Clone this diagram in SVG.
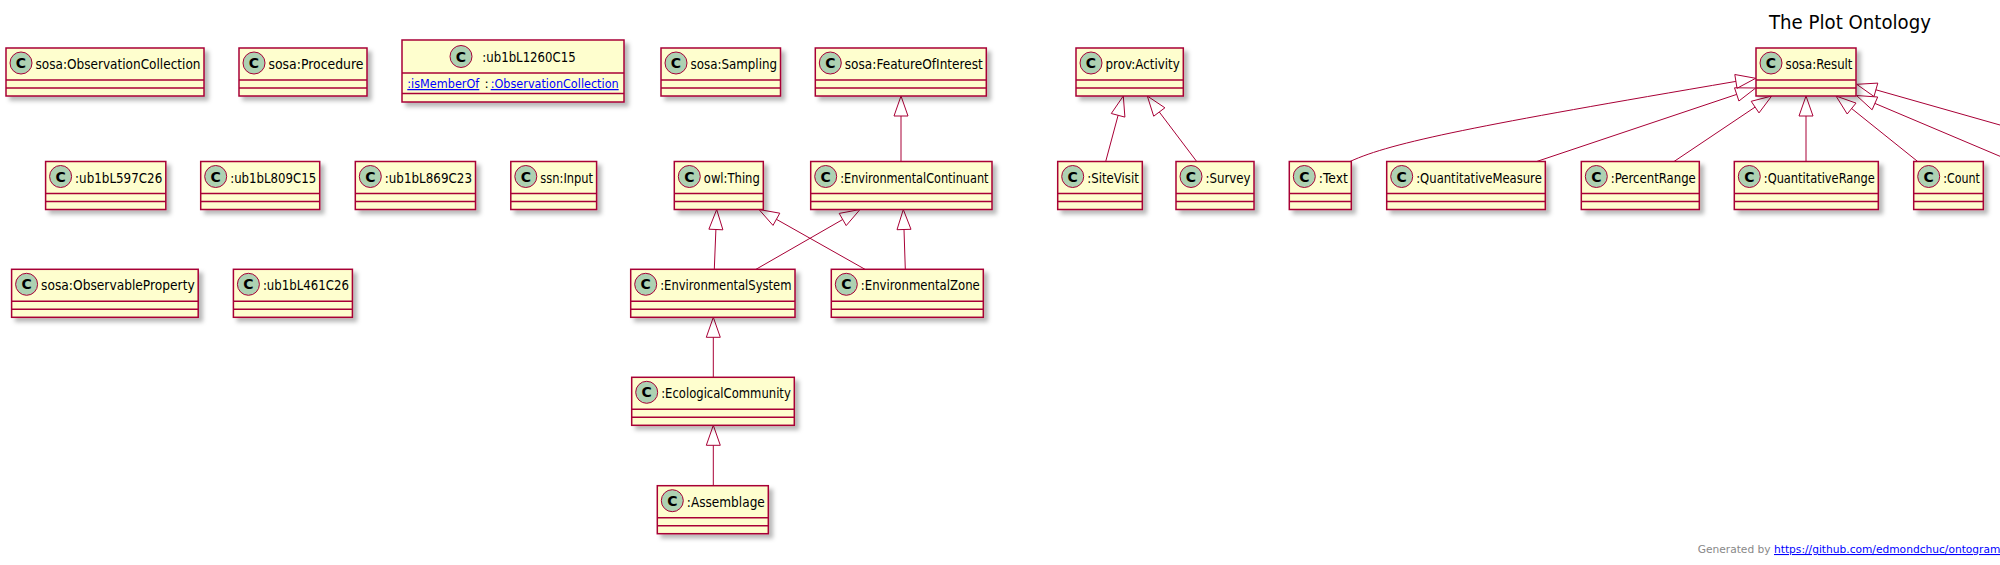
<svg xmlns="http://www.w3.org/2000/svg" width="2000" height="565" viewBox="0 0 2000 565">
<defs>
<filter id="sh" x="-20%" y="-20%" width="150%" height="170%"><feDropShadow dx="4" dy="4" stdDeviation="2" flood-color="#000" flood-opacity="0.28"/></filter>
<style>
.box{fill:#FEFECE;stroke:#A80036;stroke-width:1.5;filter:url(#sh)}
.sep{stroke:#A80036;stroke-width:1.5}
.ci{fill:#ADD1B2;stroke:#A80036;stroke-width:1}
.cl{font-family:"DejaVu Sans",sans-serif;font-weight:bold;font-size:14px;text-anchor:middle;fill:#000}
.nm{font-family:"DejaVu Sans",sans-serif;font-size:13.5px;fill:#000}
.at{font-family:"DejaVu Sans",sans-serif;font-size:12.5px;fill:#000}
.lk{fill:#0000FF;text-decoration:underline}
.ln{fill:none;stroke:#A80036;stroke-width:1}
.ah{fill:none;stroke:#A80036;stroke-width:1}
.title{font-family:"DejaVu Sans",sans-serif;font-size:19px;fill:#000}
.foot{font-family:"DejaVu Sans",sans-serif;font-size:10.65px;fill:#888888}
</style>
</defs>
<rect width="2000" height="565" fill="#FFFFFF"/>
<text class="title" x="1769" y="29" textLength="162" lengthAdjust="spacingAndGlyphs">The Plot Ontology</text>

<g id="connectors">
<line class="ln" x1="901" y1="161.5" x2="901" y2="116"/><polygon class="ah" points="901,96 894,116 908,116"/>
<line class="ln" x1="714.3" y1="269.3" x2="715.9" y2="229.5"/><polygon class="ah" points="716.7,209.5 722.9,229.8 708.9,229.2"/>
<line class="ln" x1="865" y1="269.3" x2="776.4" y2="219.3"/><polygon class="ah" points="759,209.5 773,225.4 779.8,213.2"/>
<line class="ln" x1="756" y1="269.3" x2="842.7" y2="219.5"/><polygon class="ah" points="860,209.5 846.2,225.6 839.2,213.4"/>
<line class="ln" x1="905.3" y1="269.3" x2="904" y2="229.5"/><polygon class="ah" points="903.3,209.5 911,229.3 897,229.7"/>
<line class="ln" x1="713.3" y1="377.3" x2="713.3" y2="337.3"/><polygon class="ah" points="713.3,317.3 706.3,337.3 720.3,337.3"/>
<line class="ln" x1="713.3" y1="485.7" x2="713.3" y2="445.3"/><polygon class="ah" points="713.3,425.3 706.3,445.3 720.3,445.3"/>
<line class="ln" x1="1105.7" y1="161.5" x2="1118.1" y2="115.3"/><polygon class="ah" points="1123.3,96 1124.9,117.1 1111.3,113.5"/>
<line class="ln" x1="1196.7" y1="161.5" x2="1159.3" y2="112"/><polygon class="ah" points="1147.3,96 1153.7,116.2 1164.9,107.8"/>
<path class="ln" d="M1350,161.5 C1392,142 1480,125 1735.9,81.4"/><polygon class="ah" points="1755.7,78.3 1737,88.3 1734.8,74.5"/>
<line class="ln" x1="1536.7" y1="161.5" x2="1736.7" y2="94.4"/><polygon class="ah" points="1755.7,88 1738.9,101 1734.5,87.8"/>
<line class="ln" x1="1674" y1="161.5" x2="1755.1" y2="107.1"/><polygon class="ah" points="1771.7,96 1759,112.9 1751.2,101.3"/>
<line class="ln" x1="1806" y1="161.5" x2="1806" y2="116"/><polygon class="ah" points="1806,96 1799,116 1813,116"/>
<line class="ln" x1="1917.7" y1="161.5" x2="1851.6" y2="108.5"/><polygon class="ah" points="1836,96 1847.2,114 1856,103.1"/>
<line class="ln" x1="2100" y1="153.4" x2="1875.9" y2="89.8"/><polygon class="ah" points="1856.7,84.3 1874,96.5 1877.8,83.1"/>
<line class="ln" x1="2100" y1="198.6" x2="1874.9" y2="103.4"/><polygon class="ah" points="1856.5,95.5 1872.1,109.8 1877.7,97"/>
</g>

<g id="sosa-ObservationCollection" transform="translate(6,48)"><rect class="box" width="198" height="48"/><line class="sep" x1="0" y1="32" x2="198" y2="32"/><line class="sep" x1="0" y1="40" x2="198" y2="40"/><circle class="ci" cx="15" cy="15" r="11"/><text class="cl" x="15" y="20">C</text><text class="nm" x="29.5" y="21" textLength="165" lengthAdjust="spacingAndGlyphs">sosa:ObservationCollection</text></g>
<g id="sosa-Procedure" transform="translate(239,48)"><rect class="box" width="128" height="48"/><line class="sep" x1="0" y1="32" x2="128" y2="32"/><line class="sep" x1="0" y1="40" x2="128" y2="40"/><circle class="ci" cx="15" cy="15" r="11"/><text class="cl" x="15" y="20">C</text><text class="nm" x="29.5" y="21" textLength="95" lengthAdjust="spacingAndGlyphs">sosa:Procedure</text></g>
<g id="ub1bL1260C15" transform="translate(402,40)"><rect class="box" width="222" height="62"/><line class="sep" x1="0" y1="33" x2="222" y2="33"/><line class="sep" x1="0" y1="53.5" x2="222" y2="53.5"/><circle class="ci" cx="59" cy="16.5" r="11"/><text class="cl" x="59" y="21.5">C</text><text class="nm" x="80.3" y="22" textLength="93.4" lengthAdjust="spacingAndGlyphs">:ub1bL1260C15</text><text class="at lk" x="5.3" y="48" textLength="72" lengthAdjust="spacingAndGlyphs">:isMemberOf</text><text class="at" x="82.5" y="48">:</text><text class="at lk" x="88.7" y="48" textLength="128" lengthAdjust="spacingAndGlyphs">:ObservationCollection</text></g>
<g id="sosa-Sampling" transform="translate(661,48)"><rect class="box" width="119.5" height="48"/><line class="sep" x1="0" y1="32" x2="119.5" y2="32"/><line class="sep" x1="0" y1="40" x2="119.5" y2="40"/><circle class="ci" cx="15" cy="15" r="11"/><text class="cl" x="15" y="20">C</text><text class="nm" x="29.5" y="21" textLength="86.5" lengthAdjust="spacingAndGlyphs">sosa:Sampling</text></g>
<g id="sosa-FeatureOfInterest" transform="translate(815.3,48)"><rect class="box" width="171" height="48"/><line class="sep" x1="0" y1="32" x2="171" y2="32"/><line class="sep" x1="0" y1="40" x2="171" y2="40"/><circle class="ci" cx="15" cy="15" r="11"/><text class="cl" x="15" y="20">C</text><text class="nm" x="29.5" y="21" textLength="138" lengthAdjust="spacingAndGlyphs">sosa:FeatureOfInterest</text></g>
<g id="prov-Activity" transform="translate(1076,48)"><rect class="box" width="107.3" height="48"/><line class="sep" x1="0" y1="32" x2="107.3" y2="32"/><line class="sep" x1="0" y1="40" x2="107.3" y2="40"/><circle class="ci" cx="15" cy="15" r="11"/><text class="cl" x="15" y="20">C</text><text class="nm" x="29.5" y="21" textLength="74.3" lengthAdjust="spacingAndGlyphs">prov:Activity</text></g>
<g id="sosa-Result" transform="translate(1756,48)"><rect class="box" width="100" height="48"/><line class="sep" x1="0" y1="32" x2="100" y2="32"/><line class="sep" x1="0" y1="40" x2="100" y2="40"/><circle class="ci" cx="15" cy="15" r="11"/><text class="cl" x="15" y="20">C</text><text class="nm" x="29.5" y="21" textLength="67" lengthAdjust="spacingAndGlyphs">sosa:Result</text></g>

<g id="ub1bL597C26" transform="translate(45.6,161.5)"><rect class="box" width="120.2" height="48"/><line class="sep" x1="0" y1="32" x2="120.2" y2="32"/><line class="sep" x1="0" y1="40" x2="120.2" y2="40"/><circle class="ci" cx="15" cy="15" r="11"/><text class="cl" x="15" y="20">C</text><text class="nm" x="29.5" y="21" textLength="87.2" lengthAdjust="spacingAndGlyphs">:ub1bL597C26</text></g>
<g id="ub1bL809C15" transform="translate(200.7,161.5)"><rect class="box" width="119" height="48"/><line class="sep" x1="0" y1="32" x2="119" y2="32"/><line class="sep" x1="0" y1="40" x2="119" y2="40"/><circle class="ci" cx="15" cy="15" r="11"/><text class="cl" x="15" y="20">C</text><text class="nm" x="29.5" y="21" textLength="86" lengthAdjust="spacingAndGlyphs">:ub1bL809C15</text></g>
<g id="ub1bL869C23" transform="translate(355.3,161.5)"><rect class="box" width="120.2" height="48"/><line class="sep" x1="0" y1="32" x2="120.2" y2="32"/><line class="sep" x1="0" y1="40" x2="120.2" y2="40"/><circle class="ci" cx="15" cy="15" r="11"/><text class="cl" x="15" y="20">C</text><text class="nm" x="29.5" y="21" textLength="87.2" lengthAdjust="spacingAndGlyphs">:ub1bL869C23</text></g>
<g id="ssn-Input" transform="translate(510.8,161.5)"><rect class="box" width="85.8" height="48"/><line class="sep" x1="0" y1="32" x2="85.8" y2="32"/><line class="sep" x1="0" y1="40" x2="85.8" y2="40"/><circle class="ci" cx="15" cy="15" r="11"/><text class="cl" x="15" y="20">C</text><text class="nm" x="29.5" y="21" textLength="52.8" lengthAdjust="spacingAndGlyphs">ssn:Input</text></g>
<g id="owl-Thing" transform="translate(674.3,161.5)"><rect class="box" width="89" height="48"/><line class="sep" x1="0" y1="32" x2="89" y2="32"/><line class="sep" x1="0" y1="40" x2="89" y2="40"/><circle class="ci" cx="15" cy="15" r="11"/><text class="cl" x="15" y="20">C</text><text class="nm" x="29.5" y="21" textLength="56" lengthAdjust="spacingAndGlyphs">owl:Thing</text></g>
<g id="EnvironmentalContinuant" transform="translate(810.7,161.5)"><rect class="box" width="181.3" height="48"/><line class="sep" x1="0" y1="32" x2="181.3" y2="32"/><line class="sep" x1="0" y1="40" x2="181.3" y2="40"/><circle class="ci" cx="15" cy="15" r="11"/><text class="cl" x="15" y="20">C</text><text class="nm" x="29.5" y="21" textLength="148.3" lengthAdjust="spacingAndGlyphs">:EnvironmentalContinuant</text></g>
<g id="SiteVisit" transform="translate(1057.7,161.5)"><rect class="box" width="84.6" height="48"/><line class="sep" x1="0" y1="32" x2="84.6" y2="32"/><line class="sep" x1="0" y1="40" x2="84.6" y2="40"/><circle class="ci" cx="15" cy="15" r="11"/><text class="cl" x="15" y="20">C</text><text class="nm" x="29.5" y="21" textLength="51.6" lengthAdjust="spacingAndGlyphs">:SiteVisit</text></g>
<g id="Survey" transform="translate(1176,161.5)"><rect class="box" width="78" height="48"/><line class="sep" x1="0" y1="32" x2="78" y2="32"/><line class="sep" x1="0" y1="40" x2="78" y2="40"/><circle class="ci" cx="15" cy="15" r="11"/><text class="cl" x="15" y="20">C</text><text class="nm" x="29.5" y="21" textLength="45" lengthAdjust="spacingAndGlyphs">:Survey</text></g>
<g id="Text" transform="translate(1289.3,161.5)"><rect class="box" width="62" height="48"/><line class="sep" x1="0" y1="32" x2="62" y2="32"/><line class="sep" x1="0" y1="40" x2="62" y2="40"/><circle class="ci" cx="15" cy="15" r="11"/><text class="cl" x="15" y="20">C</text><text class="nm" x="29.5" y="21" textLength="29" lengthAdjust="spacingAndGlyphs">:Text</text></g>
<g id="QuantitativeMeasure" transform="translate(1386.7,161.5)"><rect class="box" width="158.6" height="48"/><line class="sep" x1="0" y1="32" x2="158.6" y2="32"/><line class="sep" x1="0" y1="40" x2="158.6" y2="40"/><circle class="ci" cx="15" cy="15" r="11"/><text class="cl" x="15" y="20">C</text><text class="nm" x="29.5" y="21" textLength="125.6" lengthAdjust="spacingAndGlyphs">:QuantitativeMeasure</text></g>
<g id="PercentRange" transform="translate(1581.3,161.5)"><rect class="box" width="118" height="48"/><line class="sep" x1="0" y1="32" x2="118" y2="32"/><line class="sep" x1="0" y1="40" x2="118" y2="40"/><circle class="ci" cx="15" cy="15" r="11"/><text class="cl" x="15" y="20">C</text><text class="nm" x="29.5" y="21" textLength="85" lengthAdjust="spacingAndGlyphs">:PercentRange</text></g>
<g id="QuantitativeRange" transform="translate(1734.3,161.5)"><rect class="box" width="144" height="48"/><line class="sep" x1="0" y1="32" x2="144" y2="32"/><line class="sep" x1="0" y1="40" x2="144" y2="40"/><circle class="ci" cx="15" cy="15" r="11"/><text class="cl" x="15" y="20">C</text><text class="nm" x="29.5" y="21" textLength="111" lengthAdjust="spacingAndGlyphs">:QuantitativeRange</text></g>
<g id="Count" transform="translate(1913.7,161.5)"><rect class="box" width="69.6" height="48"/><line class="sep" x1="0" y1="32" x2="69.6" y2="32"/><line class="sep" x1="0" y1="40" x2="69.6" y2="40"/><circle class="ci" cx="15" cy="15" r="11"/><text class="cl" x="15" y="20">C</text><text class="nm" x="29.5" y="21" textLength="36.6" lengthAdjust="spacingAndGlyphs">:Count</text></g>

<g id="sosa-ObservableProperty" transform="translate(11.6,269.3)"><rect class="box" width="186.6" height="48"/><line class="sep" x1="0" y1="32" x2="186.6" y2="32"/><line class="sep" x1="0" y1="40" x2="186.6" y2="40"/><circle class="ci" cx="15" cy="15" r="11"/><text class="cl" x="15" y="20">C</text><text class="nm" x="29.5" y="21" textLength="153.6" lengthAdjust="spacingAndGlyphs">sosa:ObservableProperty</text></g>
<g id="ub1bL461C26" transform="translate(233.4,269.3)"><rect class="box" width="119" height="48"/><line class="sep" x1="0" y1="32" x2="119" y2="32"/><line class="sep" x1="0" y1="40" x2="119" y2="40"/><circle class="ci" cx="15" cy="15" r="11"/><text class="cl" x="15" y="20">C</text><text class="nm" x="29.5" y="21" textLength="86" lengthAdjust="spacingAndGlyphs">:ub1bL461C26</text></g>
<g id="EnvironmentalSystem" transform="translate(630.7,269.3)"><rect class="box" width="164.3" height="48"/><line class="sep" x1="0" y1="32" x2="164.3" y2="32"/><line class="sep" x1="0" y1="40" x2="164.3" y2="40"/><circle class="ci" cx="15" cy="15" r="11"/><text class="cl" x="15" y="20">C</text><text class="nm" x="29.5" y="21" textLength="131.3" lengthAdjust="spacingAndGlyphs">:EnvironmentalSystem</text></g>
<g id="EnvironmentalZone" transform="translate(831.3,269.3)"><rect class="box" width="152" height="48"/><line class="sep" x1="0" y1="32" x2="152" y2="32"/><line class="sep" x1="0" y1="40" x2="152" y2="40"/><circle class="ci" cx="15" cy="15" r="11"/><text class="cl" x="15" y="20">C</text><text class="nm" x="29.5" y="21" textLength="119" lengthAdjust="spacingAndGlyphs">:EnvironmentalZone</text></g>
<g id="EcologicalCommunity" transform="translate(631.7,377.3)"><rect class="box" width="162.6" height="48"/><line class="sep" x1="0" y1="32" x2="162.6" y2="32"/><line class="sep" x1="0" y1="40" x2="162.6" y2="40"/><circle class="ci" cx="15" cy="15" r="11"/><text class="cl" x="15" y="20">C</text><text class="nm" x="29.5" y="21" textLength="129.6" lengthAdjust="spacingAndGlyphs">:EcologicalCommunity</text></g>
<g id="Assemblage" transform="translate(657.3,485.7)"><rect class="box" width="111" height="48"/><line class="sep" x1="0" y1="32" x2="111" y2="32"/><line class="sep" x1="0" y1="40" x2="111" y2="40"/><circle class="ci" cx="15" cy="15" r="11"/><text class="cl" x="15" y="20">C</text><text class="nm" x="29.5" y="21" textLength="78" lengthAdjust="spacingAndGlyphs">:Assemblage</text></g>

<text class="foot" x="1697.7" y="553">Generated by</text>
<text class="foot" x="1774" y="553" fill="#0000FF" style="fill:#0000FF;text-decoration:underline">https://github.com/edmondchuc/ontogram</text>
</svg>
